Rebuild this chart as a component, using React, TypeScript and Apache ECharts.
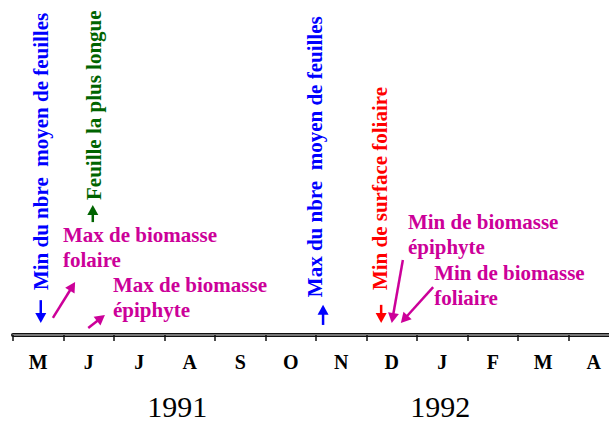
import React, { useEffect, useRef } from "react";
import * as echarts from "echarts";

// Month categories along the time axis (May 1991 -> April 1992)
const months = ["M", "J", "J", "A", "S", "O", "N", "D", "J", "F", "M", "A"];
const yearLabels = ["1991", "1992"];
const yearPositions = [3.25, 8.46]; // in months from the first tick

// Phenological events
const eventLabels = [
  "Min du nbre\u00A0 moyen de feuilles",
  "Feuille la plus longue",
  "Max de biomasse\nfolaire",
  "Max de biomasse\népiphyte",
  "Max du nbre\u00A0 moyen de feuilles",
  "Min de surface foliaire",
  "Min de biomasse\népiphyte",
  "Min de biomasse\nfoliaire",
];
// arrow tip / tail in (month, height) units
const eventTip = [
  [0.55, 3.6],
  [1.58, 38.8],
  [1.23, 15.8],
  [1.82, 6.0],
  [6.14, 9.0],
  [7.29, 3.6],
  [7.5, 3.6],
  [7.68, 3.6],
];
const eventTail = [
  [0.55, 10.4],
  [1.58, 33.7],
  [0.79, 5.1],
  [1.49, 2.1],
  [6.14, 3.0],
  [7.29, 9.0],
  [7.72, 22.4],
  [8.32, 14.3],
];
const eventTextAt = [
  [0.554, 13.4],
  [1.604, 40.3],
  [0.99, 33.6],
  [1.98, 18.7],
  [5.98, 11.3],
  [7.27, 13.4],
  [7.82, 37.5],
  [8.34, 22.2],
];
const eventVertical = [true, true, false, false, true, true, false, false];

const BLUE = "#0000ff";
const GREEN = "#006400";
const MAG = "#cc0099";
const RED = "#ff0000";
const eventColor = [BLUE, GREEN, MAG, MAG, BLUE, RED, MAG, MAG];

const SERIF = '"Liberation Serif", "Times New Roman", serif';
const YEAR_ROW = -21.2;

export default function App() {
  const ref = useRef<HTMLDivElement>(null);
  useEffect(() => {
    if (!ref.current) return;
    const chart = echarts.init(ref.current, undefined, { renderer: "svg" });

    const renderItem = (params: any, api: any) => {
      const i = api.value(2);
      const color = eventColor[i];
      const tip = api.coord(eventTip[i]);
      const tail = api.coord(eventTail[i]);
      const txt = api.coord(eventTextAt[i]);
      const dx = tip[0] - tail[0];
      const dy = tip[1] - tail[1];
      const len = Math.sqrt(dx * dx + dy * dy) || 1;
      const ux = dx / len;
      const uy = dy / len;
      const L = 10;
      const W = 5.5;
      const bx = tip[0] - ux * L;
      const by = tip[1] - uy * L;
      const nx = -uy;
      const ny = ux;
      const children: any[] = [
        {
          type: "line",
          shape: { x1: tail[0], y1: tail[1], x2: bx + ux * 1, y2: by + uy * 1 },
          style: { stroke: color, lineWidth: 2.5 },
        },
        {
          type: "polygon",
          shape: {
            points: [
              [tip[0], tip[1]],
              [bx + nx * W, by + ny * W],
              [bx - nx * W, by - ny * W],
            ],
          },
          style: { fill: color },
        },
      ];
      if (eventVertical[i]) {
        children.push({
          type: "text",
          x: txt[0],
          y: txt[1],
          rotation: Math.PI / 2,
          style: {
            text: eventLabels[i],
            fill: color,
            font: `bold 21px ${SERIF}`,
            align: "left",
            verticalAlign: "middle",
            textAlign: "left",
            textVerticalAlign: "middle",
          },
        });
      } else {
        children.push({
          type: "text",
          x: txt[0],
          y: txt[1],
          style: {
            text: eventLabels[i],
            fill: color,
            font: `bold 21px ${SERIF}`,
            lineHeight: 25,
            align: "left",
            verticalAlign: "top",
            textAlign: "left",
            textVerticalAlign: "top",
          },
        });
      }
      return { type: "group", children };
    };

    const renderYear = (params: any, api: any) => {
      const i = api.value(2);
      const p = api.coord([api.value(0), api.value(1)]);
      return {
        type: "text",
        x: p[0],
        y: p[1],
        style: {
          text: yearLabels[i],
          fill: "#000",
          font: `30px ${SERIF}`,
          align: "center",
          verticalAlign: "middle",
          textAlign: "center",
          textVerticalAlign: "middle",
        },
      };
    };

    chart.setOption({
      animation: false,
      grid: { left: 13, width: 606, top: 0, bottom: 88, outerBoundsMode: "none" },
      xAxis: [
        {
          type: "category",
          data: months,
          position: "bottom",
          boundaryGap: true,
          axisLine: { show: true, onZero: false, lineStyle: { color: "#111", width: 4 } },
          axisTick: { show: true, length: 6, lineStyle: { color: "#111", width: 1.5 } },
          axisLabel: {
            color: "#000",
            fontFamily: SERIF,
            fontWeight: "bold",
            fontSize: 20,
            margin: 17,
          },
          splitLine: { show: false },
        },
        {
          type: "value",
          min: 0,
          max: 12,
          position: "bottom",
          offset: 0,
          axisLine: { show: true, onZero: false, lineStyle: { color: "#9a9a9a", width: 1.5 } },
          axisTick: { show: false },
          axisLabel: { show: false },
          splitLine: { show: false },
        },
      ],
      yAxis: { type: "value", min: 0, max: 100, show: false },
      series: [
        {
          type: "custom",
          xAxisIndex: 1,
          yAxisIndex: 0,
          clip: false,
          encode: { x: 0, y: 1 },
          data: eventLabels.map((_, i) => [eventTip[i][0], eventTip[i][1], i]),
          renderItem,
          z: 5,
        },
        {
          type: "custom",
          xAxisIndex: 1,
          yAxisIndex: 0,
          clip: false,
          encode: { x: 0, y: 1 },
          data: yearPositions.map((x, i) => [x, YEAR_ROW, i]),
          renderItem: renderYear,
        },
      ],
    });
    return () => chart.dispose();
  }, []);
  return (
    <div
      ref={ref}
      style={{ position: "absolute", left: 0, top: 0, width: 609, height: 423, background: "#fff" }}
    />
  );
}
